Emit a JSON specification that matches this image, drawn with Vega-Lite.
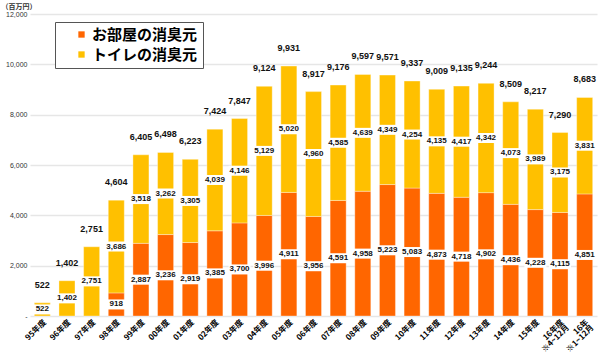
{
  "$schema": "https://vega.github.io/schema/vega-lite/v6.json",
  "width": 567,
  "height": 302,
  "autosize": "none",
  "padding": {"left": 30, "top": 14, "right": 3, "bottom": 39},
  "background": "white",
  "config": {
    "view": {"stroke": null},
    "font": "Liberation Sans"
  },
  "datasets": {
    "seg": [
      {"cat": "95年度", "series": "トイレの消臭元", "v": 522},
      {"cat": "96年度", "series": "トイレの消臭元", "v": 1402},
      {"cat": "97年度", "series": "トイレの消臭元", "v": 2751},
      {"cat": "98年度", "series": "お部屋の消臭元", "v": 918},
      {"cat": "98年度", "series": "トイレの消臭元", "v": 3686},
      {"cat": "99年度", "series": "お部屋の消臭元", "v": 2887},
      {"cat": "99年度", "series": "トイレの消臭元", "v": 3518},
      {"cat": "00年度", "series": "お部屋の消臭元", "v": 3236},
      {"cat": "00年度", "series": "トイレの消臭元", "v": 3262},
      {"cat": "01年度", "series": "お部屋の消臭元", "v": 2919},
      {"cat": "01年度", "series": "トイレの消臭元", "v": 3305},
      {"cat": "02年度", "series": "お部屋の消臭元", "v": 3385},
      {"cat": "02年度", "series": "トイレの消臭元", "v": 4039},
      {"cat": "03年度", "series": "お部屋の消臭元", "v": 3700},
      {"cat": "03年度", "series": "トイレの消臭元", "v": 4146},
      {"cat": "04年度", "series": "お部屋の消臭元", "v": 3996},
      {"cat": "04年度", "series": "トイレの消臭元", "v": 5129},
      {"cat": "05年度", "series": "お部屋の消臭元", "v": 4911},
      {"cat": "05年度", "series": "トイレの消臭元", "v": 5020},
      {"cat": "06年度", "series": "お部屋の消臭元", "v": 3956},
      {"cat": "06年度", "series": "トイレの消臭元", "v": 4960},
      {"cat": "07年度", "series": "お部屋の消臭元", "v": 4591},
      {"cat": "07年度", "series": "トイレの消臭元", "v": 4585},
      {"cat": "08年度", "series": "お部屋の消臭元", "v": 4958},
      {"cat": "08年度", "series": "トイレの消臭元", "v": 4639},
      {"cat": "09年度", "series": "お部屋の消臭元", "v": 5223},
      {"cat": "09年度", "series": "トイレの消臭元", "v": 4349},
      {"cat": "10年度", "series": "お部屋の消臭元", "v": 5083},
      {"cat": "10年度", "series": "トイレの消臭元", "v": 4254},
      {"cat": "11年度", "series": "お部屋の消臭元", "v": 4873},
      {"cat": "11年度", "series": "トイレの消臭元", "v": 4135},
      {"cat": "12年度", "series": "お部屋の消臭元", "v": 4718},
      {"cat": "12年度", "series": "トイレの消臭元", "v": 4417},
      {"cat": "13年度", "series": "お部屋の消臭元", "v": 4902},
      {"cat": "13年度", "series": "トイレの消臭元", "v": 4342},
      {"cat": "14年度", "series": "お部屋の消臭元", "v": 4436},
      {"cat": "14年度", "series": "トイレの消臭元", "v": 4073},
      {"cat": "15年度", "series": "お部屋の消臭元", "v": 4228},
      {"cat": "15年度", "series": "トイレの消臭元", "v": 3989},
      {"cat": "16年度|※4~12月", "series": "お部屋の消臭元", "v": 4115},
      {"cat": "16年度|※4~12月", "series": "トイレの消臭元", "v": 3175},
      {"cat": "16年|※1~12月", "series": "お部屋の消臭元", "v": 4851},
      {"cat": "16年|※1~12月", "series": "トイレの消臭元", "v": 3831}
    ],
    "tot": [
      {"cat": "95年度", "total": 522},
      {"cat": "96年度", "total": 1402},
      {"cat": "97年度", "total": 2751},
      {"cat": "98年度", "total": 4604},
      {"cat": "99年度", "total": 6405},
      {"cat": "00年度", "total": 6498},
      {"cat": "01年度", "total": 6223},
      {"cat": "02年度", "total": 7424},
      {"cat": "03年度", "total": 7847},
      {"cat": "04年度", "total": 9124},
      {"cat": "05年度", "total": 9931},
      {"cat": "06年度", "total": 8917},
      {"cat": "07年度", "total": 9176},
      {"cat": "08年度", "total": 9597},
      {"cat": "09年度", "total": 9571},
      {"cat": "10年度", "total": 9337},
      {"cat": "11年度", "total": 9009},
      {"cat": "12年度", "total": 9135},
      {"cat": "13年度", "total": 9244},
      {"cat": "14年度", "total": 8509},
      {"cat": "15年度", "total": 8217},
      {"cat": "16年度|※4~12月", "total": 7290},
      {"cat": "16年|※1~12月", "total": 8683}
    ]
  },
  "encoding": {
    "x": {
      "field": "cat",
      "type": "nominal",
      "sort": null,
      "scale": {
        "domain": ["95年度","96年度","97年度","98年度","99年度","00年度","01年度","02年度","03年度","04年度","05年度","06年度","07年度","08年度","09年度","10年度","11年度","12年度","13年度","14年度","15年度","16年度|※4~12月","16年|※1~12月"],
        "paddingInner": 0.35,
        "paddingOuter": 0.175
      },
      "axis": {
        "title": null,
        "domain": false,
        "ticks": false,
        "labelAngle": -45,
        "labelFont": "Noto Sans CJK JP",
        "labelFontSize": 8,
        "labelFontWeight": "bold",
        "labelColor": "#000000",
        "labelPadding": 2,
        "labelLineHeight": 7.5,
        "labelExpr": "split(datum.value, '|')"
      }
    }
  },
  "layer": [
    {
      "data": {"name": "seg"},
      "mark": {"type": "bar", "stroke": "#ffffff", "strokeOpacity": 0.35, "strokeWidth": 1},
      "encoding": {
        "y": {
          "field": "v",
          "type": "quantitative",
          "aggregate": "sum",
          "stack": "zero",
          "scale": {"domain": [0, 12000], "nice": false},
          "axis": {
            "title": "（百万円）",
            "titleAngle": 0,
            "titleX": -29,
            "titleY": -8,
            "titleAlign": "left",
            "titleBaseline": "middle",
            "titleFont": "Noto Sans CJK JP",
            "titleFontSize": 7,
            "titleFontWeight": "bold",
            "titleColor": "#333333",
            "values": [0, 2000, 4000, 6000, 8000, 10000, 12000],
            "labelExpr": "datum.value == 0 ? '-' : format(datum.value, ',')",
            "labelFontSize": 7,
            "labelColor": "#333333",
            "labelPadding": 3,
            "domain": false,
            "ticks": false,
            "gridColor": "#e6e6e6",
            "gridWidth": 1.5
          }
        },
        "order": {"field": "series", "sort": "ascending"},
        "color": {
          "field": "series",
          "type": "nominal",
          "scale": {
            "domain": ["お部屋の消臭元", "トイレの消臭元"],
            "range": ["#ff6600", "#ffc000"]
          },
          "legend": {
            "title": null,
            "orient": "none",
            "legendX": 25,
            "legendY": 8,
            "direction": "vertical",
            "fillColor": "#ffffff",
            "strokeColor": "#555555",
            "padding": 5,
            "symbolOffset": 14,
            "symbolType": "square",
            "symbolSize": 40,
            "symbolStrokeWidth": 0,
            "labelFont": "Noto Sans CJK JP",
            "labelFontSize": 15,
            "labelFontWeight": "bold",
            "labelColor": "#000000",
            "labelOffset": 3,
            "labelLimit": 300,
            "rowPadding": 4
          }
        }
      }
    },
    {
      "data": {"name": "seg"},
      "transform": [
        {"stack": "v", "groupby": ["cat"], "sort": [{"field": "series"}], "as": ["y0", "y1"]},
        {"calculate": "(datum.y0 + datum.y1) / 2", "as": "mid"}
      ],
      "mark": {"type": "tick", "color": "#ffffff", "opacity": 1, "size": 22, "thickness": 10, "orient": "horizontal"},
      "encoding": {
        "y": {"field": "mid", "type": "quantitative"}
      }
    },
    {
      "data": {"name": "seg"},
      "transform": [
        {"stack": "v", "groupby": ["cat"], "sort": [{"field": "series"}], "as": ["y0", "y1"]},
        {"calculate": "(datum.y0 + datum.y1) / 2", "as": "mid"}
      ],
      "mark": {"type": "text", "fontSize": 8, "fontWeight": "bold", "color": "#111111", "baseline": "middle"},
      "encoding": {
        "y": {"field": "mid", "type": "quantitative"},
        "text": {"field": "v", "type": "quantitative", "format": ","}
      }
    },
    {
      "data": {"name": "tot"},
      "mark": {"type": "text", "fontSize": 9, "fontWeight": "bold", "color": "#111111", "baseline": "middle", "dy": -18},
      "encoding": {
        "y": {"field": "total", "type": "quantitative"},
        "text": {"field": "total", "type": "quantitative", "format": ","}
      }
    }
  ]
}
